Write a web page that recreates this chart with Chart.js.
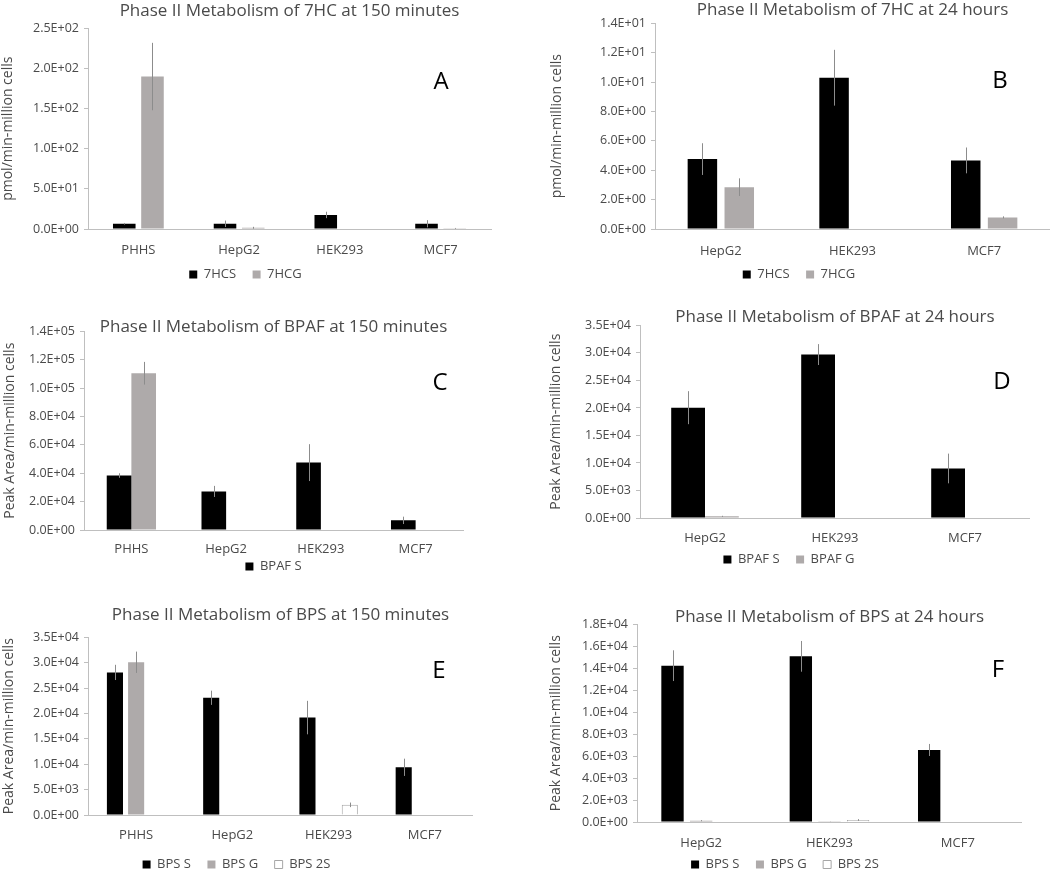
<!DOCTYPE html>
<html lang="en">
<head>
<meta charset="UTF-8">
<title>Phase II Metabolism</title>
<script src="https://cdn.jsdelivr.net/npm/chart.js"></script>
<style>
  body {
    margin: 0;
    background: #fff;
    overflow: hidden;
    width: 1050px;
    height: 870px;
  }

  canvas {
    position: absolute;
  }
</style>
</head>
<body>
  <canvas id="chartA" width="496" height="290" style="left:0px;top:1px"></canvas>
  <canvas id="chartB" width="502" height="291" style="left:548px;top:0px"></canvas>
  <canvas id="chartC" width="464" height="266" style="left:0px;top:317px"></canvas>
  <canvas id="chartD" width="482" height="269" style="left:548px;top:307px"></canvas>
  <canvas id="chartE" width="473" height="276" style="left:0px;top:605px"></canvas>
  <canvas id="chartF" width="474" height="274" style="left:548px;top:607px"></canvas>

<script>
  // categories
  const cells150 = ['PHHS', 'HepG2', 'HEK293', 'MCF7'];
  const cells24 = ['HepG2', 'HEK293', 'MCF7'];

  // A - 7HC 150 min (pmol/min-million cells)
  const hcs150 = [6.5, 6.5, 17.5, 6.5];
  const hcs150Err = [1, 4, 4, 4.5];
  const hcg150 = [190, 1.5, 0, 0.8];
  const hcg150Err = [42, 1.2, 0, 0.5];

  // B - 7HC 24 h
  const hcs24 = [4.76, 10.3, 4.67];
  const hcs24Err = [1.08, 1.9, 0.88];
  const hcg24 = [2.85, 0, 0.79];
  const hcg24Err = [0.6, 0, 0.07];

  // C - BPAF 150 min (peak area)
  const bpafS150 = [38400, 27200, 47500, 6800];
  const bpafS150Err = [1600, 3900, 13000, 2600];
  const bpafG150 = [110500, 0, 0, 0];
  const bpafG150Err = [8000, 0, 0, 0];

  // D - BPAF 24 h
  const bpafS24 = [20050, 29700, 9000];
  const bpafS24Err = [3000, 1900, 2700];
  const bpafG24 = [300, 0, 0];
  const bpafG24Err = [100, 0, 0];

  // E - BPS 150 min
  const bpsS150 = [28100, 23100, 19200, 9400];
  const bpsS150Err = [1500, 1400, 3300, 1700];
  const bpsG150 = [30100, 0, 0, 0];
  const bpsG150Err = [2100, 0, 0, 0];
  const bps2S150 = [0, 0, 2000, 0];
  const bps2S150Err = [0, 0, 450, 0];

  // F - BPS 24 h
  const bpsS24 = [14240, 15090, 6560];
  const bpsS24Err = [1400, 1400, 550];
  const bpsG24 = [120, 30, 0];
  const bpsG24Err = [50, 10, 0];
  const bps2S24 = [0, 180, 0];
  const bps2S24Err = [0, 80, 0];

  // y axis ranges [max, step]
  const yRangeA = [250, 50];
  const yRangeB = [14, 2];
  const yRangeC = [140000, 20000];
  const yRangeD = [35000, 5000];
  const yRangeE = [35000, 5000];
  const yRangeF = [18000, 2000];

  const BLACK = '#000000';
  const GREY = '#aeaaaa';
  const TEXT = '#4a4a4a';

  Chart.defaults.font.family = "'Open Sans', sans-serif";

  // 2.5E+02 style labels like excel
  function sci(v) {
    const parts = Number(v).toExponential(1).split('e');
    const n = parseInt(parts[1], 10);
    return parts[0] + 'E' + (n < 0 ? '-' : '+') + String(Math.abs(n)).padStart(2, '0');
  }

  const errorBars = {
    id: 'errorBars',
    afterDatasetsDraw(chart) {
      const ctx = chart.ctx;
      const yScale = chart.scales.y;
      chart.data.datasets.forEach((ds, i) => {
        if (!ds.errors) return;
        const meta = chart.getDatasetMeta(i);
        meta.data.forEach((bar, j) => {
          const e = ds.errors[j];
          if (!e) return;
          const v = ds.data[j];
          const x = Math.round(bar.x) + 0.5;
          ctx.save();
          ctx.strokeStyle = '#8c8c8c';
          ctx.lineWidth = 1;
          ctx.beginPath();
          ctx.moveTo(x, yScale.getPixelForValue(Math.max(0, v - e)));
          ctx.lineTo(x, yScale.getPixelForValue(v + e));
          ctx.stroke();
          ctx.restore();
        });
      });
    }
  };

  const panelLetter = {
    id: 'panelLetter',
    afterDraw(chart, args, opts) {
      if (!opts.text) return;
      const ctx = chart.ctx;
      ctx.save();
      ctx.fillStyle = '#000';
      ctx.font = "24px 'Open Sans', sans-serif";
      ctx.textAlign = 'center';
      ctx.textBaseline = 'middle';
      ctx.fillText(opts.text, opts.x, opts.y);
      ctx.restore();
    }
  };

  function series(label, data, errors, color, border) {
    return {
      label: label,
      data: data,
      errors: errors,
      backgroundColor: color,
      borderColor: border || color,
      borderWidth: border ? 1 : 0
    };
  }

  // legend items with a wider gap between them (excel style)
  function legendItems(hide) {
    return (chart) => {
      const items = Chart.defaults.plugins.legend.labels.generateLabels(chart)
        .filter(item => !(hide || []).includes(item.text));
      items.forEach((item, i) => {
        if (i < items.length - 1) item.text = item.text + '    ';
      });
      return items;
    };
  }

  function makeChart(id, labels, datasets, o) {
    return new Chart(document.getElementById(id), {
      type: 'bar',
      data: { labels: labels, datasets: datasets },
      options: {
        responsive: false,
        animation: false,
        categoryPercentage: o.catPct,
        barPercentage: o.barPct,
        layout: { padding: { right: o.padRight } },
        scales: {
          x: {
            grid: { display: false, drawTicks: false },
            border: { color: '#bfbfbf' },
            ticks: { color: TEXT, font: { size: 13 }, padding: o.xPad },
            afterFit: (s) => { s.height = o.xHeight; }
          },
          y: {
            min: 0,
            max: o.yRange[0],
            grid: { drawOnChartArea: false, color: '#bfbfbf', tickLength: 4 },
            border: { color: '#bfbfbf' },
            ticks: { stepSize: o.yRange[1], color: TEXT, font: { size: 12.5 }, padding: 5, callback: sci },
            title: {
              display: true,
              text: o.yTitle,
              color: TEXT,
              font: { size: 14 },
              padding: { top: o.yTitlePad, bottom: 0 }
            },
            afterFit: (s) => { s.width = o.yWidth; }
          }
        },
        plugins: {
          title: {
            display: true,
            text: o.title,
            fullSize: false,
            color: TEXT,
            font: { size: 17, weight: 'normal' },
            padding: { top: 0, bottom: o.titleBottom }
          },
          legend: {
            position: 'bottom',
            fullSize: o.legendFull !== false,
            labels: {
              color: TEXT,
              font: { size: 13 },
              boxWidth: 8,
              boxHeight: 8,
              padding: 3,
              generateLabels: legendItems(o.hide)
            }
          },
          tooltip: { enabled: false },
          panelLetter: { text: o.letter, x: o.letterX, y: o.letterY }
        }
      },
      plugins: [errorBars, panelLetter]
    });
  }

  makeChart('chartA', cells150, [
    series('7HCS', hcs150, hcs150Err, BLACK),
    series('7HCG', hcg150, hcg150Err, GREY)
  ], {
    title: 'Phase II Metabolism of 7HC at 150 minutes', yTitle: 'pmol/min-million cells',
    yRange: yRangeA, catPct: 0.56, barPct: 0.8, padRight: 5,
    titleBottom: 7, xHeight: 36, xPad: 13, yWidth: 88, yTitlePad: 0,
    letter: 'A', letterX: 441, letterY: 81
  });

  makeChart('chartB', cells24, [
    series('7HCS', hcs24, hcs24Err, BLACK),
    series('7HCG', hcg24, hcg24Err, GREY)
  ], {
    title: 'Phase II Metabolism of 7HC at 24 hours', yTitle: 'pmol/min-million cells',
    yRange: yRangeB, catPct: 0.56, barPct: 0.8, padRight: 0,
    titleBottom: 3, xHeight: 36, xPad: 14, yWidth: 107, yTitlePad: 1,
    letter: 'B', letterX: 452, letterY: 81
  });

  makeChart('chartC', cells150, [
    series('BPAF S', bpafS150, bpafS150Err, BLACK),
    series('BPAF G', bpafG150, bpafG150Err, GREY)
  ], {
    title: 'Phase II Metabolism of BPAF at 150 minutes', yTitle: 'Peak Area/min-million cells',
    yRange: yRangeC, catPct: 0.52, barPct: 1, padRight: 1,
    titleBottom: -6, xHeight: 27, xPad: 11, yWidth: 84, yTitlePad: 2,
    legendFull: false, hide: ['BPAF G'],
    letter: 'C', letterX: 440, letterY: 66
  });

  makeChart('chartD', cells24, [
    series('BPAF S', bpafS24, bpafS24Err, BLACK),
    series('BPAF G', bpafG24, bpafG24Err, GREY)
  ], {
    title: 'Phase II Metabolism of BPAF at 24 hours', yTitle: 'Peak Area/min-million cells',
    yRange: yRangeD, catPct: 0.52, barPct: 1, padRight: 0,
    titleBottom: -2, xHeight: 32, xPad: 12, yWidth: 92, yTitlePad: 0,
    letter: 'D', letterX: 454, letterY: 75
  });

  makeChart('chartE', cells150, [
    series('BPS S', bpsS150, bpsS150Err, BLACK),
    series('BPS G', bpsG150, bpsG150Err, GREY),
    series('BPS 2S', bps2S150, bps2S150Err, '#ffffff', '#a6a6a6')
  ], {
    title: 'Phase II Metabolism of BPS at 150 minutes', yTitle: 'Peak Area/min-million cells',
    yRange: yRangeE, catPct: 0.66, barPct: 0.76, padRight: 0,
    titleBottom: 12, xHeight: 40, xPad: 12, yWidth: 88, yTitlePad: 1,
    letter: 'E', letterX: 439, letterY: 66
  });

  makeChart('chartF', cells24, [
    series('BPS S', bpsS24, bpsS24Err, BLACK),
    series('BPS G', bpsG24, bpsG24Err, GREY),
    series('BPS 2S', bps2S24, bps2S24Err, '#ffffff', '#a6a6a6')
  ], {
    title: 'Phase II Metabolism of BPS at 24 hours', yTitle: 'Peak Area/min-million cells',
    yRange: yRangeF, catPct: 0.67, barPct: 0.78, padRight: 0,
    titleBottom: -3, xHeight: 33, xPad: 13, yWidth: 89, yTitlePad: 0,
    letter: 'F', letterX: 450, letterY: 63
  });
</script>
</body>
</html>
